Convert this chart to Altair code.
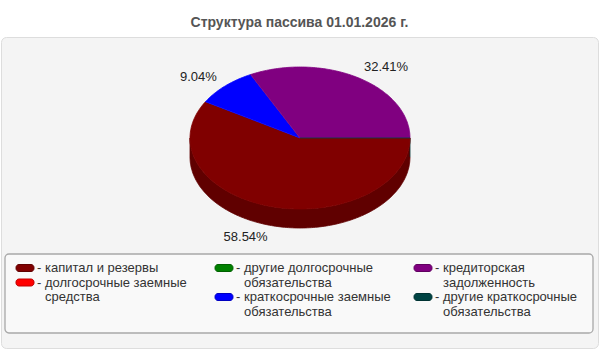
import math
import textwrap
import numpy as np
import pandas as pd
import altair as alt

# ---------------- data ----------------
title_text = "Структура пассива 01.01.2026 г."
categories = [
    "капитал и резервы",
    "долгосрочные заемные средства",
    "другие долгосрочные обязательства",
    "краткосрочные заемные обязательства",
    "кредиторская задолженность",
    "другие краткосрочные обязательства",
]
shares = [58.54, 0.0, 0.0, 9.04, 32.41, 0.01]
colors = ["#800000", "#ff0000", "#008000", "#0000ff", "#800080", "#004444"]
side_colors = ["#600000", "#c00000", "#006000", "#0000c0", "#600060", "#003333"]

# ---------------- layout ----------------
W, H = 597, 311          # plot area (grey panel)
OX, OY = 1, 37           # panel offset in page
CX, CY = 300 - OX, 138 - OY
RX, RY, DEPTH = 110, 71, 19
FONT = "Liberation Sans"

total = sum(shares)
cum = np.concatenate([[0.0], np.cumsum(shares)]) / total * 360.0

rows = []
def add_poly(key, pts):
    for k, (px, py) in enumerate(pts):
        rows.append({"shape": key, "ord": k, "x": px, "y": py})

def ell(t, dy=0.0):
    r = math.radians(t)
    return (CX + RX * math.cos(r), CY + RY * math.sin(r) + dy)

side_keys, top_keys = [], []
for i, v in enumerate(shares):
    if v <= 0:
        continue
    a, b = cum[i], cum[i + 1]
    # top face
    n = max(2, int(math.ceil(b - a)) + 1)
    ts = np.linspace(a, b, n)
    add_poly(f"top{i}", [(CX, CY)] + [ell(t) for t in ts])
    top_keys.append((f"top{i}", colors[i]))
    # visible side wall (front half)
    for lo, hi in [(max(a, 0), min(b, 180)), (max(a, 360), min(b, 540))]:
        if lo <= hi:
            n = max(2, int(math.ceil(hi - lo)) + 1)
            ts = np.linspace(lo, hi, n)
            pts = [ell(t) for t in ts] + [ell(t, DEPTH) for t in ts[::-1]]
            key = f"side{i}_{int(lo)}"
            add_poly(key, pts)
            side_keys.append((key, side_colors[i]))

geo = pd.DataFrame(rows)

xs = alt.Scale(domain=[0, W], nice=False, zero=False)
ys = alt.Scale(domain=[0, H], nice=False, zero=False, reverse=True)

layers = []
for key, col in side_keys + top_keys:
    layers.append(
        alt.Chart(geo)
        .transform_filter(alt.datum.shape == key)
        .mark_line(fill=col, stroke=col, strokeWidth=0.8, interpolate="linear")
        .encode(
            x=alt.X("x:Q", scale=xs, axis=None),
            y=alt.Y("y:Q", scale=ys, axis=None),
            order="ord:Q",
        )
    )

# percentage labels
lab = []
for i, v in enumerate(shares):
    if v < 0.5:
        continue
    m = math.radians((cum[i] + cum[i + 1]) / 2)
    c, s = math.cos(m), math.sin(m)
    lab.append({
        "x": CX + (RX + 12) * c,
        "y": CY + (RY + 12) * s + (DEPTH if s > 0 else 0),
        "text": f"{v:.2f}%",
        "side": "L" if c < 0 else "R",
    })
labdf = pd.DataFrame(lab)
for sd, al in [("L", "right"), ("R", "left")]:
    layers.append(
        alt.Chart(labdf)
        .transform_filter(alt.datum.side == sd)
        .mark_text(align=al, baseline="middle", font=FONT, fontSize=13, color="#222222")
        .encode(x=alt.X("x:Q", scale=xs, axis=None), y=alt.Y("y:Q", scale=ys, axis=None), text="text:N")
    )

# legend box
box = pd.DataFrame({"x": [5 - OX], "x2": [593 - OX], "y": [254 - OY], "y2": [333 - OY]})
layers.insert(0,
    alt.Chart(box)
    .mark_rect(fill="#f9f9f9", stroke="#a8a8a8", strokeWidth=1.3, cornerRadius=4)
    .encode(x=alt.X("x:Q", scale=xs, axis=None), x2="x2:Q", y=alt.Y("y:Q", scale=ys, axis=None), y2="y2:Q")
)

# legend entries (column-major, two per column)
LINE = 14.5
sw, tx = [], []
for i, cat in enumerate(categories):
    col, pos = divmod(i, 2)
    x0 = 16 + col * 199 - OX
    lines_before = 0
    if pos == 1:
        lines_before = len(textwrap.wrap(categories[i - 1], 22))
    y0 = 268 - OY + lines_before * LINE
    sw.append({"cat": cat, "x": x0, "x2": x0 + 18, "y": y0 - 3.5, "y2": y0 + 3.5})
    tx.append({"x": x0 + 21, "y": y0, "t": "-"})
    for k, ln in enumerate(textwrap.wrap(cat, 22)):
        tx.append({"x": x0 + 29, "y": y0 + k * LINE, "t": ln})
swdf = pd.DataFrame(sw)
txdf = pd.DataFrame(tx)

layers.append(
    alt.Chart(swdf)
    .mark_rect(cornerRadius=3, strokeWidth=1)
    .encode(
        x=alt.X("x:Q", scale=xs, axis=None), x2="x2:Q",
        y=alt.Y("y:Q", scale=ys, axis=None), y2="y2:Q",
        fill=alt.Fill("cat:N", scale=alt.Scale(domain=categories, range=colors), legend=None),
        stroke=alt.Stroke("cat:N", scale=alt.Scale(domain=categories, range=side_colors), legend=None),
    )
)
layers.append(
    alt.Chart(txdf)
    .mark_text(align="left", baseline="middle", font=FONT, fontSize=13, color="#333333")
    .encode(x=alt.X("x:Q", scale=xs, axis=None), y=alt.Y("y:Q", scale=ys, axis=None), text="t:N")
)

chart = (
    alt.layer(*layers)
    .properties(
        width=W, height=H,
        title=alt.TitleParams(title_text, font=FONT, fontSize=14, fontWeight="bold",
                              color="#555555", anchor="middle", baseline="alphabetic",
                              offset=10, dy=14),
        autosize=alt.AutoSizeParams(type="none"),
        padding={"left": OX, "top": OY, "right": 600 - OX - W, "bottom": 350 - OY - H},
        background="white",
    )
    .configure_view(fill="#f4f4f4", stroke="#dddddd", strokeWidth=1, cornerRadius=5)
)

chart.save("out.html", embed_options={"renderer": "svg", "actions": False})
